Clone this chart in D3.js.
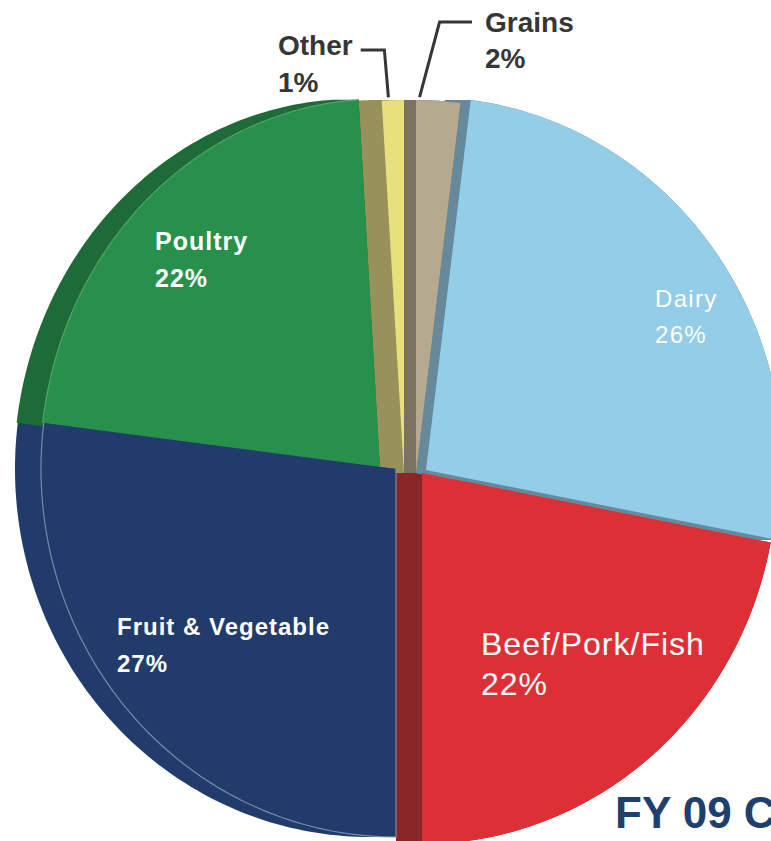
<!DOCTYPE html>
<html><head><meta charset="utf-8">
<script src="https://cdn.jsdelivr.net/npm/d3@7"></script>
<style>html,body{margin:0;padding:0;background:#fff;overflow:hidden}</style>
</head><body>
<svg id="chart" width="771" height="841"></svg>
<script>
// ---------------- data ----------------
const categories = ["Grains", "Dairy", "Beef/Pork/Fish", "Fruit & Vegetable", "Poultry", "Other"];
const shares = [2, 26, 22, 27, 22, 1];
const shareLabels = ["2%", "26%", "22%", "27%", "22%", "1%"];
const chartTitle = "FY 09 Commodity Purchases";

// ---------------- style ----------------
const topColors  = ["#b5a98f", "#94cde8", "#dd3036", "#213c6a", "#27914c", "#e8e07c"];
const sideColors = ["#7b7262", "#66899c", "#8b2628", "#213c6a", "#1e6b3a", "#989159"];
const rimColors  = [null, null, null, "#8597bb", "#5aa874", null];
const rimLead    = [false, false, false, true, false, false];
const labelFill  = ["#363636", "#ffffff", "#ffffff", "#ffffff", "#ffffff", "#363636"];

const W = 771, H = 841;
const cx = 410, cy = 470, R = 370, depth = 26;
// per-slice explode nudges and perspective radii
const nudge = [
  {dx: 6,   dy: 3,  rx: 355, ry: 373},
  {dx: 16,  dy: 0,  rx: 357, ry: 373},
  {dx: 12,  dy: 3,  rx: 355, ry: 371},
  {dx: -14, dy: -1, rx: 355, ry: 368},
  {dx: -30, dy: -1, rx: 340, ry: 370},
  {dx: -6,  dy: 3,  rx: 355, ry: 373}
];
const labelLayout = [
  {x: 485, y: 32,  gap: 36, size: 28, weight: "bold"},
  {x: 655, y: 307, gap: 36, size: 24, weight: "normal", ls: 1.3},
  {x: 481, y: 655, gap: 40, size: 32, weight: "normal", ls: 1},
  {x: 117, y: 635, gap: 37, size: 24, weight: "bold", ls: 1},
  {x: 155, y: 250, gap: 37, size: 25, weight: "bold", ls: 1},
  {x: 278, y: 55,  gap: 37, size: 28, weight: "bold"}
];

const svg = d3.select("#chart");
const pie = d3.pie().sort(null).value(d => d).startAngle(0).endAngle(2 * Math.PI);
const arcs = pie(shares);
const arcGen = d3.arc().innerRadius(0).outerRadius(R);

function apex(i) { return [cx + nudge[i].dx, cy + nudge[i].dy]; }
function rimPoint(i, a) {
  const [ax, ay] = apex(i);
  return [ax + nudge[i].rx * Math.sin(a), ay - nudge[i].ry * Math.cos(a)];
}
function wedgePoints(i, n = 90) {
  const a = arcs[i];
  const pts = [apex(i)];
  for (let k = 0; k <= n; k++) pts.push(rimPoint(i, a.startAngle + (a.endAngle - a.startAngle) * k / n));
  return pts;
}

// side (extruded) bodies
const sideOrder = [2, 1, 0, 5, 3, 4];
const gSide = svg.append("g");
sideOrder.forEach(i => {
  const pts = wedgePoints(i);
  const all = pts.concat(pts.map(p => [p[0] - depth, p[1]]));
  const hull = d3.polygonHull(all);
  gSide.append("path")
    .attr("d", "M" + hull.map(p => p.join(",")).join("L") + "Z")
    .attr("fill", sideColors[i]);
});

// top faces
const topOrder = [4, 3, 5, 0, 1, 2];
const gTop = svg.append("g");
topOrder.forEach(i => {
  const n = nudge[i];
  gTop.append("path")
    .attr("transform", `translate(${cx + n.dx},${cy + n.dy}) scale(${n.rx / R},${n.ry / R})`)
    .attr("d", arcGen(arcs[i]))
    .attr("fill", topColors[i]);
});

// rim highlight lines
const line = d3.line();
arcs.forEach((a, i) => {
  if (!rimColors[i]) return;
  let pts = wedgePoints(i);
  if (!rimLead[i]) pts = pts.slice(1);
  svg.append("path").attr("d", line(pts)).attr("fill", "none")
    .attr("stroke", rimColors[i]).attr("stroke-width", 1.2).attr("opacity", 0.85);
});

// labels
const gLab = svg.append("g").attr("font-family", "'Liberation Sans', Arial, Helvetica, sans-serif");
const labelNodes = [];
categories.forEach((c, i) => {
  const L = labelLayout[i];
  const t = gLab.append("text").attr("x", L.x).attr("y", L.y)
    .attr("font-size", L.size).attr("font-weight", L.weight)
    .attr("letter-spacing", L.ls || 0).attr("fill", labelFill[i]).text(c);
  gLab.append("text").attr("x", L.x).attr("y", L.y + L.gap)
    .attr("font-size", L.size).attr("font-weight", L.weight)
    .attr("letter-spacing", L.ls || 0).attr("fill", labelFill[i]).text(shareLabels[i]);
  labelNodes[i] = t;
});

// leader lines for the small slices
function leader(i, frac, side) {
  const a = arcs[i];
  const p = rimPoint(i, a.startAngle + (a.endAngle - a.startAngle) * frac);
  const end = [p[0], p[1] - 3];
  const L = labelLayout[i];
  let start, elbow;
  if (side === "right") {
    const w = labelNodes[i].node().getComputedTextLength();
    start = [L.x + w + 8, L.y - 5];
    elbow = [end[0] - 4, start[1]];
  } else {
    start = [L.x - 13, L.y - 10];
    elbow = [end[0] + 20, start[1]];
  }
  svg.append("path").attr("d", line([start, elbow, end]))
    .attr("fill", "none").attr("stroke", "#363636").attr("stroke-width", 3);
}
leader(5, 0.3, "right");
leader(0, 0.08, "left");

// title (cropped at the right edge, as in the source image)
svg.append("text").attr("x", 615).attr("y", 828)
  .attr("font-family", "'Liberation Sans', Arial, Helvetica, sans-serif")
  .attr("font-size", 44).attr("font-weight", "bold").attr("fill", "#1f3f6e")
  .text(chartTitle);
</script>
</body></html>
